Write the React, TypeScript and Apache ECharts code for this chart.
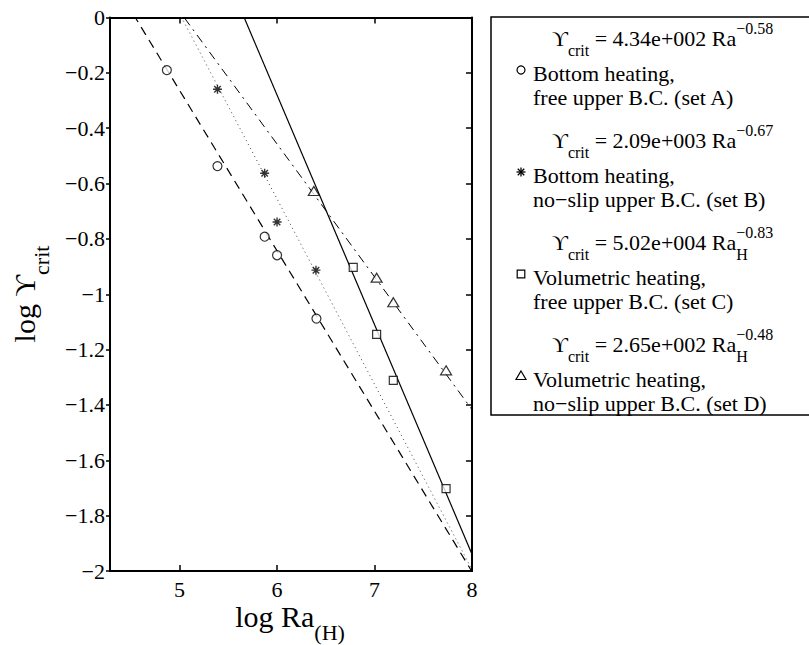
import React, { useEffect, useRef } from "react";
import * as echarts from "echarts";

// ---------- data ----------
const setA_x = [4.871, 5.39, 5.874, 6.001, 6.405];
const setA_y = [-0.19, -0.537, -0.792, -0.859, -1.088];
const setB_x = [5.39, 5.874, 6.001, 6.4];
const setB_y = [-0.259, -0.563, -0.739, -0.913];
const setC_x = [6.782, 7.022, 7.193, 7.734];
const setC_y = [-0.903, -1.145, -1.311, -1.702];
const setD_x = [6.378, 7.022, 7.193, 7.734];
const setD_y = [-0.627, -0.94, -1.029, -1.275];

// fitted power laws drawn as lines in log-log space: log Y = a + b log Ra
const fitIntercepts = [2.6375, 3.365, 4.7007, 2.4232];
const fitSlopes = [-0.58, -0.67, -0.83, -0.48];

const xTicks = [5, 6, 7, 8];
const X_MIN = 4.288;
const X_MAX = 8;
const Y_MIN = -2;
const Y_MAX = 0;
const Y_STEP = 0.2;

// legend texts
const legendCoefs = ["4.34e+002", "2.09e+003", "5.02e+004", "2.65e+002"];
const legendExps = ["\u22120.58", "\u22120.67", "\u22120.83", "\u22120.48"];
const legendSubs = ["", "", "H", "H"];
const legendLine2 = ["Bottom heating,", "Bottom heating,", "Volumetric heating,", "Volumetric heating,"];
const legendLine3 = [
  "free upper B.C. (set A)",
  "no\u2212slip upper B.C. (set B)",
  "free upper B.C. (set C)",
  "no\u2212slip upper B.C. (set D)",
];

const FONT = "Liberation Serif";

let measureCtx: CanvasRenderingContext2D | null = null;
function tw(text: string, size: number): number {
  if (!measureCtx) measureCtx = document.createElement("canvas").getContext("2d");
  if (!measureCtx) return text.length * size * 0.5;
  measureCtx.font = `${size}px "${FONT}"`;
  return measureCtx.measureText(text).width;
}

type Piece = { t: string; s: number; dy: number; sameX?: boolean };

function txt(x: number, baseline: number, t: string, s: number, z = 20): any {
  return {
    type: "text",
    x,
    y: baseline - 0.34 * s,
    z,
    style: {
      text: t,
      fontSize: s,
      fontFamily: FONT,
      fill: "#000",
      align: "left",
      verticalAlign: "middle",
      lineHeight: s,
    },
  };
}

function pieceLine(x0: number, baseline: number, pieces: Piece[]): { els: any[]; width: number } {
  const els: any[] = [];
  let cursor = x0;
  let prevStart = x0;
  let maxX = x0;
  for (const p of pieces) {
    const start = p.sameX ? prevStart : cursor;
    const w = tw(p.t, p.s);
    els.push(txt(start, baseline + p.dy, p.t, p.s));
    prevStart = start;
    cursor = Math.max(cursor, start + w);
    maxX = Math.max(maxX, start + w);
  }
  return { els, width: maxX - x0 };
}

function starLines(cx: number, cy: number, r: number): any[] {
  const d = r * 0.72;
  const segs = [
    [cx - r, cy, cx + r, cy],
    [cx, cy - r, cx, cy + r],
    [cx - d, cy - d, cx + d, cy + d],
    [cx - d, cy + d, cx + d, cy - d],
  ];
  return segs.map((s) => ({
    type: "line",
    z: 20,
    shape: { x1: s[0], y1: s[1], x2: s[2], y2: s[3] },
    style: { stroke: "#000", lineWidth: 1.3 },
  }));
}

function buildGraphic(): any[] {
  const g: any[] = [];
  // legend box
  g.push({
    type: "rect",
    z: 10,
    shape: { x: 491, y: 17, width: 340, height: 398 },
    style: { fill: "#fff", stroke: "#000", lineWidth: 1.5 },
  });
  const LS = 22;
  const SS = 16;
  for (let i = 0; i < 4; i++) {
    const m = 70 + 102 * i;
    const mx = 521;
    if (i === 0) {
      g.push({ type: "circle", z: 20, shape: { cx: mx, cy: m, r: 4 }, style: { fill: "#fff", stroke: "#000", lineWidth: 1.2 } });
    } else if (i === 1) {
      g.push(...starLines(mx, m, 4.5));
    } else if (i === 2) {
      g.push({ type: "rect", z: 20, shape: { x: mx - 3.8, y: m - 3.8, width: 7.6, height: 7.6 }, style: { fill: "#fff", stroke: "#000", lineWidth: 1.2 } });
    } else {
      g.push({
        type: "polygon",
        z: 20,
        shape: { points: [[mx, m - 5], [mx + 5, m + 3.5], [mx - 5, m + 3.5]] },
        style: { fill: "#fff", stroke: "#000", lineWidth: 1.2 },
      });
    }
    const eqBase = m - 24;
    const pieces: Piece[] = [
      { t: "\u03d2", s: LS, dy: 0 },
      { t: "crit", s: SS, dy: 10 },
      { t: ` = ${legendCoefs[i]} Ra`, s: LS, dy: 0 },
    ];
    if (legendSubs[i]) {
      pieces.push({ t: legendSubs[i], s: SS, dy: 10 });
      pieces.push({ t: legendExps[i], s: SS, dy: -12, sameX: true });
    } else {
      pieces.push({ t: legendExps[i], s: SS, dy: -12 });
    }
    g.push(...pieceLine(552, eqBase, pieces).els);
    g.push(txt(533, m + 11, legendLine2[i], LS));
    g.push(txt(533, m + 35, legendLine3[i], LS));
  }

  // x axis label: log Ra_(H)
  const xl: Piece[] = [
    { t: "log Ra", s: 30, dy: 0 },
    { t: "(H)", s: 22, dy: 13 },
  ];
  const xw = tw("log Ra", 30) + tw("(H)", 22);
  g.push(...pieceLine(290 - xw / 2, 627, xl).els);

  // y axis label: log Upsilon_crit (rotated)
  const yw = tw("log \u03d2", 30) + tw("crit", 22);
  const yl = pieceLine(-yw / 2, 0, [
    { t: "log \u03d2", s: 30, dy: 0 },
    { t: "crit", s: 22, dy: 14 },
  ]);
  g.push({ type: "group", x: 35, y: 294, rotation: Math.PI / 2, children: yl.els });
  return g;
}

function pairs(xs: number[], ys: number[]): number[][] {
  return xs.map((x, i) => [x, ys[i]]);
}

function fitLine(i: number): number[][] {
  const a = fitIntercepts[i];
  const b = fitSlopes[i];
  return [
    [X_MIN, a + b * X_MIN],
    [X_MAX, a + b * X_MAX],
  ];
}

const yFmt = (v: number) => {
  const r = Math.round(v * 10) / 10;
  if (r === 0) return "0";
  return (r < 0 ? "\u2212" : "") + String(Math.abs(r));
};

const STAR = "path://M0,-5L0,5M-5,0L5,0M-3.6,-3.6L3.6,3.6M-3.6,3.6L3.6,-3.6";

export default function App() {
  const ref = useRef<HTMLDivElement>(null);
  useEffect(() => {
    if (!ref.current) return;
    const chart = echarts.init(ref.current, undefined, { renderer: "svg" });
    const axisLine = { show: true, onZero: false, lineStyle: { color: "#000", width: 2 } };
    const labelStyle = { color: "#000", fontSize: 22, fontFamily: FONT };
    chart.setOption({
      animation: false,
      backgroundColor: "#fff",
      textStyle: { fontFamily: FONT },
      grid: { left: 110, right: 337, top: 17.5, bottom: 74, containLabel: false },
      xAxis: [
        {
          type: "value",
          position: "bottom",
          min: X_MIN,
          max: X_MAX,
          axisLine,
          splitLine: { show: false },
          axisTick: { show: true, inside: true, length: 6, customValues: xTicks, lineStyle: { color: "#000", width: 1.5 } },
          axisLabel: { show: true, margin: 7, customValues: xTicks, ...labelStyle, formatter: (v: number) => String(v) },
        },
        {
          type: "value",
          position: "top",
          min: X_MIN,
          max: X_MAX,
          axisLine,
          splitLine: { show: false },
          axisTick: { show: true, inside: true, length: 6, customValues: xTicks, lineStyle: { color: "#000", width: 1.5 } },
          axisLabel: { show: false },
        },
      ],
      yAxis: [
        {
          type: "value",
          position: "left",
          min: Y_MIN,
          max: Y_MAX,
          interval: Y_STEP,
          axisLine,
          splitLine: { show: false },
          axisTick: { show: true, inside: false, length: 4, lineStyle: { color: "#000", width: 1.5 } },
          axisLabel: { show: true, margin: 5, ...labelStyle, formatter: yFmt },
        },
        {
          type: "value",
          position: "right",
          min: Y_MIN,
          max: Y_MAX,
          interval: Y_STEP,
          axisLine,
          splitLine: { show: false },
          axisTick: { show: true, inside: true, length: 6, lineStyle: { color: "#000", width: 1.5 } },
          axisLabel: { show: false },
        },
      ],
      series: [
        {
          type: "line",
          data: fitLine(0),
          showSymbol: false,
          clip: true,
          silent: true,
          lineStyle: { color: "#000", width: 1.2, type: [9, 6] },
        },
        {
          type: "line",
          data: fitLine(1),
          showSymbol: false,
          clip: true,
          silent: true,
          lineStyle: { color: "#444", width: 1, type: [1, 3.5] },
        },
        {
          type: "line",
          data: fitLine(2),
          showSymbol: false,
          clip: true,
          silent: true,
          lineStyle: { color: "#000", width: 1.2 },
        },
        {
          type: "line",
          data: fitLine(3),
          showSymbol: false,
          clip: true,
          silent: true,
          lineStyle: { color: "#000", width: 1, type: [9, 5, 2, 5] },
        },
        {
          type: "scatter",
          data: pairs(setA_x, setA_y),
          symbol: "circle",
          symbolSize: 9,
          itemStyle: { color: "#fff", borderColor: "#000", borderWidth: 1.2 },
          z: 5,
        },
        {
          type: "scatter",
          data: pairs(setB_x, setB_y),
          symbol: STAR,
          symbolSize: 9,
          itemStyle: { color: "transparent", borderColor: "#000", borderWidth: 1.4 },
          z: 5,
        },
        {
          type: "scatter",
          data: pairs(setC_x, setC_y),
          symbol: "rect",
          symbolSize: 8,
          itemStyle: { color: "#fff", borderColor: "#000", borderWidth: 1.2 },
          z: 5,
        },
        {
          type: "scatter",
          data: pairs(setD_x, setD_y),
          symbol: "triangle",
          symbolSize: [11, 9],
          itemStyle: { color: "#fff", borderColor: "#000", borderWidth: 1.2 },
          z: 5,
        },
      ],
      graphic: buildGraphic(),
    });
    return () => chart.dispose();
  }, []);
  return (
    <div
      ref={ref}
      style={{ position: "fixed", left: 0, top: 0, width: 809, height: 645, background: "#fff" }}
    />
  );
}
